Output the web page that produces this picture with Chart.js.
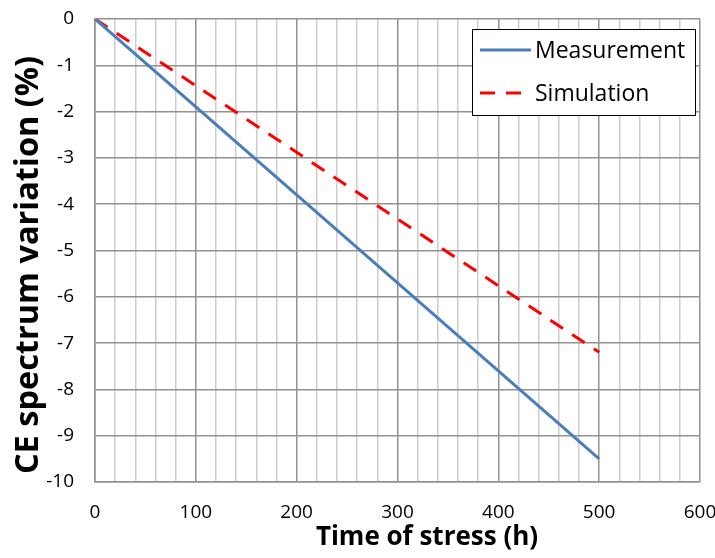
<!DOCTYPE html>
<html>
<head>
<meta charset="utf-8">
<script src="https://cdn.jsdelivr.net/npm/chart.js@4"></script>
<style>
  html, body { margin: 0; padding: 0; background: #fff; }
  #wrap { width: 715px; height: 558px; }
</style>
</head>
<body>
<div id="wrap"><canvas id="stressChart" width="715" height="558"></canvas></div>
<script>
// Données
const hours = [0, 100, 200, 300, 400, 500];
const measurement = [0, -1.9, -3.8, -5.7, -7.6, -9.5];
const simulation = [0, -1.44, -2.88, -4.32, -5.76, -7.2];
const seriesNames = ["Measurement", "Simulation"];
const xTitle = "Time of stress (h)";
const yTitle = "CE spectrum variation (%)";

const FONT = "'Open Sans', 'Liberation Sans', sans-serif";

// Légende encadrée + titres des axes
const extras = {
    id: "extras",
    afterDraw(chart) {
        const ctx = chart.ctx;
        const x = 472, y = 29, w = 223, h = 86;
        ctx.save();
        ctx.fillStyle = "#fff";
        ctx.fillRect(x, y, w, h);
        ctx.strokeStyle = "#000";
        ctx.lineWidth = 1;
        ctx.strokeRect(x + 0.5, y + 0.5, w, h);
        ctx.lineWidth = 3;
        ctx.font = "23px " + FONT;
        ctx.textBaseline = "middle";
        ctx.fillStyle = "#000";
        chart.data.datasets.forEach((ds, i) => {
            const ly = y + 21 + i * 43;
            ctx.strokeStyle = ds.borderColor;
            ctx.setLineDash(ds.borderDash || []);
            ctx.beginPath();
            ctx.moveTo(x + 8, ly);
            ctx.lineTo(x + 59, ly);
            ctx.stroke();
            ctx.setLineDash([]);
            ctx.fillText(ds.label, x + 63, ly + 1);
        });

        ctx.textAlign = "center";
        ctx.font = "bold 26px " + FONT;
        ctx.fillText(xTitle, 427, 538);
        ctx.translate(29, 265);
        ctx.rotate(-Math.PI / 2);
        ctx.font = "bold 32.5px " + FONT;
        ctx.fillText(yTitle, 0, 0);
        ctx.restore();
    }
};

const ctx = document.getElementById("stressChart").getContext("2d");
new Chart(ctx, {
    type: "line",
    data: {
        datasets: [{
            label: seriesNames[0],
            data: hours.map((h, i) => ({ x: h, y: measurement[i] })),
            borderColor: "#4A7EBB",
            borderWidth: 3,
            pointRadius: 0,
            tension: 0
        }, {
            label: seriesNames[1],
            data: hours.map((h, i) => ({ x: h, y: simulation[i] })),
            borderColor: "#FF0000",
            borderWidth: 3,
            borderDash: [15, 11],
            pointRadius: 0,
            tension: 0
        }]
    },
    options: {
        responsive: false,
        animation: false,
        layout: { padding: { top: 19, right: 0, left: 0, bottom: 0 } },
        plugins: {
            legend: { display: false },
            tooltip: { enabled: false }
        },
        scales: {
            x: {
                type: "linear",
                min: 0,
                max: 600,
                afterFit(scale) {
                    scale.height = 76;
                    scale.paddingRight = 15;
                    scale.paddingLeft = 0;
                },
                ticks: {
                    stepSize: 20,
                    autoSkip: false,
                    maxRotation: 0,
                    padding: 19,
                    color: "#000",
                    font: { family: FONT, size: 19 },
                    callback: v => (v % 100 === 0 ? v : "")
                },
                grid: {
                    drawTicks: false,
                    color: c => (c.tick && c.tick.value % 100 === 0 ? "#929292" : "#CDCDCD"),
                    lineWidth: 1.5
                },
                border: { color: "#929292", width: 1.5 }
            },
            y: {
                min: -10,
                max: 0,
                afterFit(scale) {
                    scale.width = 95;
                    scale.paddingTop = 0;
                    scale.paddingBottom = 0;
                },
                ticks: {
                    stepSize: 1,
                    padding: 21,
                    color: "#000",
                    font: { family: FONT, size: 19 }
                },
                grid: {
                    drawTicks: false,
                    color: "#929292",
                    lineWidth: 1.5
                },
                border: { color: "#929292", width: 1.5 }
            }
        }
    },
    plugins: [extras]
});
</script>
</body>
</html>
